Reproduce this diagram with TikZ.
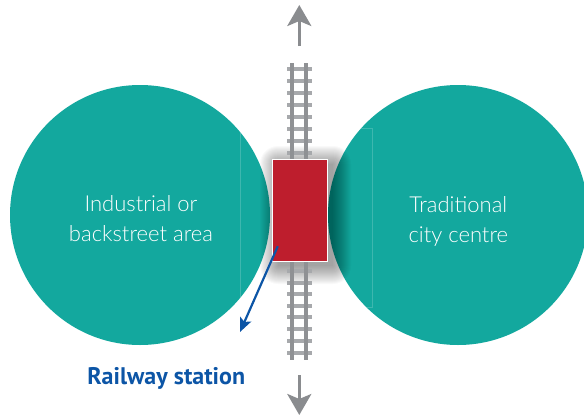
\documentclass[tikz,border=0pt]{standalone}
\usepackage{fontspec}
\newfontfamily\lightfont{Lato Light}
\newfontfamily\boldfont{PT Sans Bold}
\usetikzlibrary{arrows.meta,calc}
\definecolor{tealc}{HTML}{13A89E}
\definecolor{redc}{HTML}{BE1E2D}
\definecolor{bluec}{HTML}{0C55A6}
\definecolor{arrowgray}{HTML}{8A8C8F}
\definecolor{railgray}{HTML}{8F9194}
\definecolor{sleepergray}{HTML}{A7A9AC}
\tikzset{
  area/.style={circle, fill=tealc, minimum size=260pt, inner sep=0pt, outer sep=0pt},
  areatext/.style={text=white, align=center, anchor=base, inner sep=0pt,
    font=\lightfont\fontsize{22}{30}\selectfont},
  flowarrow/.style={draw=arrowgray, line width=3pt, -{Stealth[length=21pt,width=24pt,inset=5pt]}},
  stationbox/.style={draw=white, line width=1pt, fill=redc, minimum width=55pt, minimum height=102pt, inner sep=0pt},
  pointer/.style={draw=bluec, line width=2.2pt, -{Stealth[length=14pt,width=12pt,inset=3pt]}},
  label/.style={text=bluec, anchor=base, inner sep=0pt, font=\boldfont\fontsize{24}{28}\selectfont},
  rail/.style={fill=railgray},
  sleeper/.style={fill=sleepergray}
}
\begin{document}
\begin{tikzpicture}[x=1pt,y=-1pt]
\useasboundingbox (0,0) rectangle (584,415);
\clip (0,0) rectangle (584,415);
% areas
\node[area] (ind) at (140,215) {};
\node[area] (city) at (458,215) {};
% faint frame inside circles
\begin{scope}
  \clip (140,215) circle (130) (458,215) circle (130);
  \draw[white, opacity=0.18, line width=0.6pt] (240.7,128) rectangle (372,307);
\end{scope}
% soft shadow of the station
\foreach \k in {0,...,18}{
  \fill[black, opacity=0.022, rounded corners=\k pt] ({278-\k},{164-\k}) rectangle ({333+\k},{266+\k});
}
% tracks
\foreach \y in {69,81,93,105,117,129,141,153,271,283,294,306,317,329,341,353}{
  \fill[sleeper] (287,{\y-2.2}) rectangle (311.5,{\y+2.2});
}
\fill[rail] (290.3,63) rectangle (294.3,160);
\fill[rail] (304.2,63) rectangle (308.2,160);
\fill[rail] (290.3,260) rectangle (294.3,360);
\fill[rail] (304.2,260) rectangle (308.2,360);
% direction arrows
\coordinate (ntail) at (299.3,46);
\coordinate (ntip) at (299.3,5);
\coordinate (stail) at (299.3,375);
\coordinate (stip) at (299.3,415);
\draw[flowarrow] (ntail) -- (ntip);
\draw[flowarrow] (stail) -- (stip);
% station
\node[stationbox] (station) at (299.5,210) {};
% pointer
\coordinate (pend) at (240,332);
\draw[pointer] ($(station.south west)+(6.3,-15.3)$) -- (pend);
% texts
\node[areatext] (indtxt) at (141,241.7) {Industrial or\\backstreet area};
\node[areatext] (citytxt) at (458.3,242) {Traditional\\city centre};
\node[label] (lbl) at (166.2,384) {Railway station};
\end{tikzpicture}
\end{document}
